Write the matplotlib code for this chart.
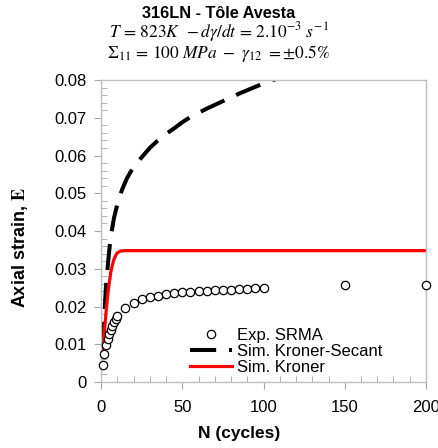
import numpy as np
import matplotlib
matplotlib.use("Agg")
import matplotlib.pyplot as plt
from matplotlib.ticker import MultipleLocator

plt.rcParams['font.family'] = ['Liberation Sans', 'DejaVu Sans']
plt.rcParams['mathtext.fontset'] = 'stix'

# Experimental data (SRMA)
n_exp = [1, 2, 3, 4, 5, 6, 7, 8, 9, 10, 15, 20, 25, 30, 35, 40, 45, 50, 55, 60,
         65, 70, 75, 80, 85, 90, 95, 100, 150, 200]
eps_exp = [0.0045, 0.0074, 0.0098, 0.0113, 0.0127, 0.0138, 0.0148, 0.0158, 0.0167, 0.0175,
           0.0195, 0.0210, 0.0220, 0.0224, 0.0228, 0.0232, 0.0236, 0.0238, 0.0239, 0.0240,
           0.0242, 0.0244, 0.0245, 0.0245, 0.0246, 0.0247, 0.0248, 0.0248, 0.0256, 0.0257]

# Simulation Kroner-Secant
n_ks = [1, 2, 2.5, 3, 4, 5, 6, 7, 8, 10, 13, 16, 20, 25, 30, 35, 40, 45, 50, 55, 60,
        65, 70, 75, 80, 85, 90, 95, 100, 110, 120]
eps_ks = [0.009, 0.017, 0.021, 0.025, 0.030, 0.0345, 0.0385, 0.041, 0.0435, 0.047, 0.051,
          0.054, 0.057, 0.0595, 0.062, 0.064, 0.0657, 0.0672, 0.0688, 0.0702, 0.0713,
          0.0724, 0.0734, 0.0744, 0.0754, 0.0764, 0.0773, 0.0782, 0.0791, 0.0806, 0.082]

# Simulation Kroner
n_k = [1, 2, 3, 4, 5, 6, 7, 8, 9, 10, 12, 15, 200]
eps_k = [0.0075, 0.013, 0.018, 0.0225, 0.026, 0.029, 0.031, 0.0325, 0.0335, 0.0342,
         0.0347, 0.0348, 0.0348]

fig = plt.figure(figsize=(4.38, 4.48), dpi=100)
ax = fig.add_axes([0.2306, 0.1473, 0.742, 0.6741])

ax.plot(n_exp, eps_exp, 'o', mfc='white', mec='black', ms=6, mew=0.9,
        label='Exp. SRMA', zorder=3, clip_on=False)
ax.plot(n_ks, eps_ks, color='black', lw=2.9, linestyle=(0, (6.5, 3.2)),
        label='Sim. Kroner-Secant', zorder=2)
ax.plot(n_k, eps_k, color='#ff0000', lw=2.3, label='Sim. Kroner', zorder=2)

ax.set_xlim(0, 200)
ax.set_ylim(0, 0.08)
ax.xaxis.set_major_locator(MultipleLocator(50))
ax.xaxis.set_minor_locator(MultipleLocator(10))
ax.yaxis.set_major_locator(MultipleLocator(0.01))
ax.yaxis.set_minor_locator(MultipleLocator(0.002))
ax.set_yticklabels(['0' if abs(v) < 1e-9 else f'{v:.2f}' for v in ax.get_yticks()])

for s in ax.spines.values():
    s.set_color('#bfbfbf')
    s.set_linewidth(1.0)
ax.tick_params(which='major', direction='out', length=5, color='#a6a6a6',
               labelsize=12, labelcolor='black')
ax.tick_params(axis='x', which='major', pad=8)
ax.tick_params(axis='y', which='major', pad=5)
ax.tick_params(which='minor', direction='in', length=4, color='#a6a6a6')

ax.set_xlabel('N (cycles)', fontsize=12.5, fontweight='bold')
ax.set_ylabel(r'Axial strain, $\mathbf{E}$', fontsize=13, fontweight='bold')
ax.xaxis.set_label_coords(0.425, -0.146)
ax.yaxis.set_label_coords(-0.218, 0.444)

fig.text(0.5, 1 - 14 / 448, '316LN - Tôle Avesta', ha='center', va='center',
         fontsize=11.7, fontweight='bold')
fig.text(0.5, 1 - 32 / 448, r'$T\,=\,823K\ \,-d\gamma/dt\,=\,2.10^{-3}\ s^{-1}$',
         ha='center', va='center', fontsize=12.5)
fig.text(0.5, 1 - 53 / 448, r'$\Sigma_{11}\,=\,100\ MPa\ -\ \gamma_{12}\ =\pm0.5\%$',
         ha='center', va='center', fontsize=12.5)

ax.legend(loc='upper left', bbox_to_anchor=(0.274, 0.18), frameon=False,
          fontsize=12, handlelength=2.52, handletextpad=0.3, labelspacing=0.08,
          borderpad=0, borderaxespad=0)

fig.savefig('out.png', dpi=100)
